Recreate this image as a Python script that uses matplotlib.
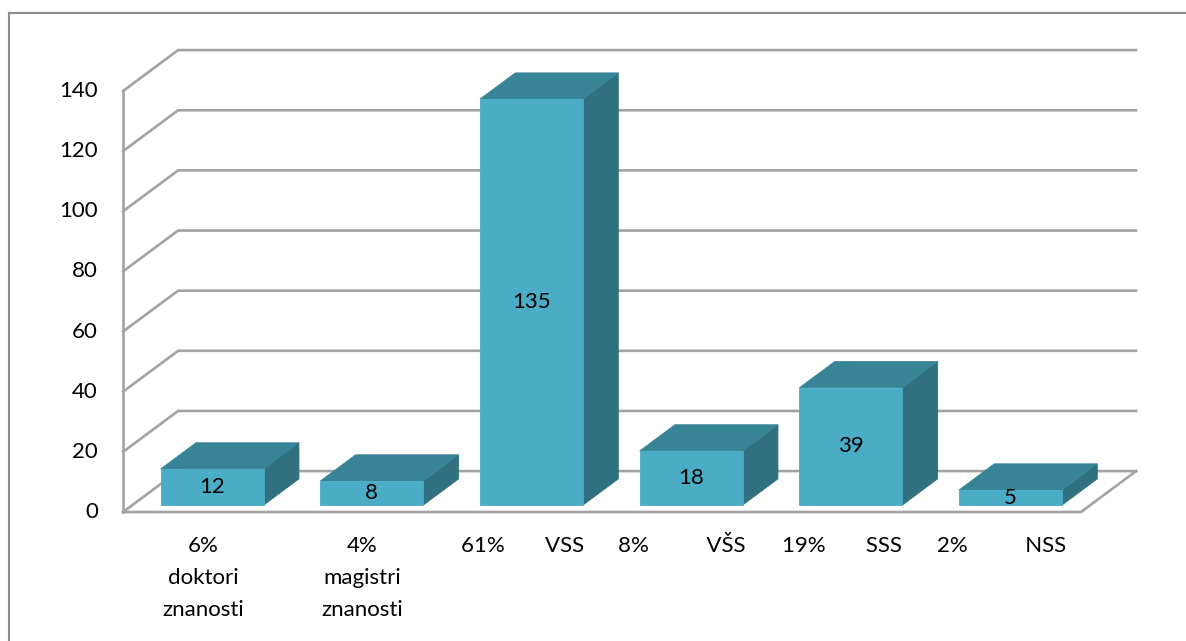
import matplotlib
matplotlib.use("Agg")
import matplotlib.pyplot as plt
from matplotlib.patches import Polygon
from matplotlib.lines import Line2D

# --- data -------------------------------------------------------------
categories = [
    "6%\ndoktori\nznanosti",
    "4%\nmagistri\nznanosti",
    "61%       VSS",
    "8%          VŠS",
    "19%       SSS",
    "2%          NSS",
]
counts = [12, 8, 135, 18, 39, 5]
y_ticks = [0, 20, 40, 60, 80, 100, 120, 140]

# --- style ------------------------------------------------------------
FRONT = "#4BACC6"
TOP = "#378497"
SIDE = "#31707F"
GRID = "#A3A3A3"
FONT = ["Lato", "DejaVu Sans"]
FS = 16

# oblique depth of the chart box, in data units (categories, values)
DEPTH_X = 0.345
DEPTH_Y = 13.6
BAR_W = 0.645
BAR_Z0, BAR_Z1 = 0.17, 0.81

plt.rcParams["font.family"] = FONT

fig = plt.figure(figsize=(11.86, 6.41), dpi=100)
ax = fig.add_axes([123 / 1186, 129 / 641, 958 / 1186, 421 / 641])
ax.set_xlim(-0.5, len(counts) - 0.5)
ax.set_ylim(0, y_ticks[-1])
ax.axis("off")


def proj(x, v, z):
    """Oblique projection of (category, value, depth) into data space."""
    return (x + z * DEPTH_X, v + z * DEPTH_Y)


x_left, x_right = -0.5, len(counts) - 0.5

# back wall gridlines with their diagonals to the front axis
for t in y_ticks:
    p0, p1 = proj(x_left, t, 0), proj(x_left, t, 1)
    p2 = proj(x_right, t, 1)
    ax.add_line(Line2D([p0[0], p1[0], p2[0]], [p0[1], p1[1], p2[1]],
                       color=GRID, lw=1.9, clip_on=False,
                       solid_joinstyle="miter", zorder=1))

# front vertical axis
a0, a1 = proj(x_left, 0, 0), proj(x_left, y_ticks[-1], 0)
ax.add_line(Line2D([a0[0], a1[0]], [a0[1], a1[1]], color=GRID, lw=1.9,
                   clip_on=False, zorder=1))

# 3-D columns
for i, v in enumerate(counts):
    x0, x1 = i - BAR_W / 2, i + BAR_W / 2
    front = [proj(x0, 0, BAR_Z0), proj(x1, 0, BAR_Z0),
             proj(x1, v, BAR_Z0), proj(x0, v, BAR_Z0)]
    top = [proj(x0, v, BAR_Z0), proj(x1, v, BAR_Z0),
           proj(x1, v, BAR_Z1), proj(x0, v, BAR_Z1)]
    side = [proj(x1, 0, BAR_Z0), proj(x1, v, BAR_Z0),
            proj(x1, v, BAR_Z1), proj(x1, 0, BAR_Z1)]
    for pts, col in ((side, SIDE), (top, TOP), (front, FRONT)):
        ax.add_patch(Polygon(pts, closed=True, facecolor=col,
                             edgecolor=col, lw=0.6, clip_on=False,
                             zorder=2))
    cx, cy = proj(i, v / 2, BAR_Z0)
    ax.text(cx, cy, str(v), ha="center", va="center", fontsize=FS,
            color="black", zorder=4)

# floor: front edge and right edge
f0, f1, f2 = proj(x_left, 0, 0), proj(x_right, 0, 0), proj(x_right, 0, 1)
ax.add_line(Line2D([f0[0], f1[0], f2[0]], [f0[1], f1[1], f2[1]],
                   color=GRID, lw=1.9, clip_on=False,
                   solid_joinstyle="miter", zorder=3))

# value axis labels
for t in y_ticks:
    ax.annotate(str(t), xy=proj(x_left, t, 0), xytext=(-18, 0),
                textcoords="offset points", ha="right", va="center",
                fontsize=FS, annotation_clip=False)

# category labels
for i, lab in enumerate(categories):
    ax.annotate(lab, xy=proj(i, 0, 0), xytext=(0, -17),
                textcoords="offset points", ha="center", va="top",
                multialignment="center", linespacing=1.75, fontsize=FS,
                annotation_clip=False)

# chart frame (left and top edges)
fig.add_artist(Line2D([8.5 / 1186, 8.5 / 1186], [0, 1 - 13 / 641],
                      transform=fig.transFigure, color="#8C8C8C", lw=1.5))
fig.add_artist(Line2D([8.5 / 1186, 1], [1 - 13 / 641, 1 - 13 / 641],
                      transform=fig.transFigure, color="#8C8C8C", lw=1.5))

fig.savefig("out.png", dpi=100)
